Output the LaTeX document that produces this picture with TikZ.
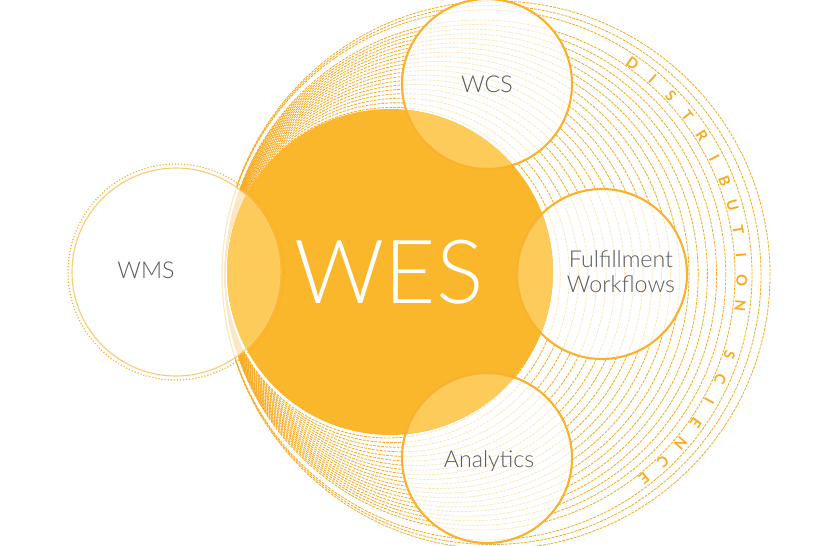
\documentclass[tikz,border=0pt]{standalone}
\usepackage{fontspec}
\setmainfont{Lato}
\newfontfamily\thinfont{Lato}[UprightFont=* Light]
\newfontfamily\ringfont{Lato}[UprightFont=* Bold]
\usetikzlibrary{math}

\definecolor{wesorange}{HTML}{FBB72C}
\definecolor{lineorange}{HTML}{F7AB22}
\definecolor{lensorange}{HTML}{FCCB5A}
\definecolor{rimorange}{HTML}{F9B12E}
\definecolor{wmsrim}{HTML}{F9CD72}
\definecolor{labelgray}{HTML}{5A5B5D}

\begin{document}
\begin{tikzpicture}[
  ring/.style={lineorange, line width=0.6pt, dash pattern=on 2pt off 0.8pt},
  veil/.style={fill=white, fill opacity=0.72},
  rim/.style={draw=rimorange, line width=1.5pt},
  label/.style={text=labelgray, font=\thinfont\fontsize{16.5}{17.8}\selectfont, align=center, inner sep=0pt},
  ringletter/.style={text=lineorange, font=\ringfont\fontsize{10.5}{11}\selectfont, inner sep=0pt}
]

\tikzmath{
\scale = 0.025;
}

\useasboundingbox (0,0) rectangle (840*\scale,-545*\scale);

\coordinate (wes) at (390*\scale,-272*\scale);
\coordinate (wcs) at (487*\scale,-84*\scale);
\coordinate (ful) at (602*\scale,-274*\scale);
\coordinate (ana) at (487*\scale,-458*\scale);
\coordinate (wms) at (176*\scale,-272*\scale);
\coordinate (ds) at (482*\scale,-275*\scale);

% distribution science rings
\foreach \k in {0,...,20} {
  \pgfmathsetmacro{\r}{163+4.6*\k}
  \draw[ring] ({(225+\r)*\scale},-275*\scale) circle({\r*\scale});
}
\foreach \r in {265,269.5,274} {
  \draw[ring] ({(222+\r)*\scale},-275*\scale) circle({\r*\scale});
}

\foreach \ch/\i in {D/0,I/1,S/2,T/3,R/4,I/5,B/6,U/7,T/8,I/9,O/10,N/11,S/13,C/14,I/15,E/16,N/17,C/18,E/19} {
  \pgfmathsetmacro{\a}{54.6-5.58*\i}
  \node[ringletter, rotate=\a-90] (l\i) at ([shift={(\a:260*\scale)}]ds) {\ch};
}

% satellites
\fill[veil] (wcs) circle(85*\scale);
\fill[veil] (ful) circle(85*\scale);
\fill[veil] (ana) circle(85*\scale);
\fill[veil] (wms) circle(104*\scale);

% core
\fill[wesorange] (wes) circle(163*\scale);

\begin{scope}
\clip (wes) circle(163*\scale);
\fill[lensorange] (wcs) circle(85*\scale);
\fill[lensorange] (ful) circle(85*\scale);
\fill[lensorange] (ana) circle(85*\scale);
\fill[lensorange] (wms) circle(104*\scale);
\end{scope}

\draw[rim] (wcs) circle(85*\scale);
\draw[rim] (ful) circle(85*\scale);
\draw[rim] (ana) circle(85*\scale);
\draw[wmsrim, line width=0.8pt] (wms) circle(104*\scale);
\draw[lineorange, line width=1.1pt, line cap=round, dash pattern=on 0pt off 2.2pt] (wms) circle(108*\scale);

% labels
\node[text=white, font=\thinfont\fontsize{63}{63}\selectfont, inner sep=0pt] (weslabel) at (389*\scale,-272*\scale) {WES};
\node[label] (wcslabel) at (487*\scale,-84*\scale) {WCS};
\node[label] (fullabel) at (621*\scale,-272*\scale) {Fulfillment\\Workflows};
\node[label] (analabel) at (489*\scale,-461*\scale) {Analytics};
\node[label] (wmslabel) at (146*\scale,-270*\scale) {WMS};

\end{tikzpicture}
\end{document}
